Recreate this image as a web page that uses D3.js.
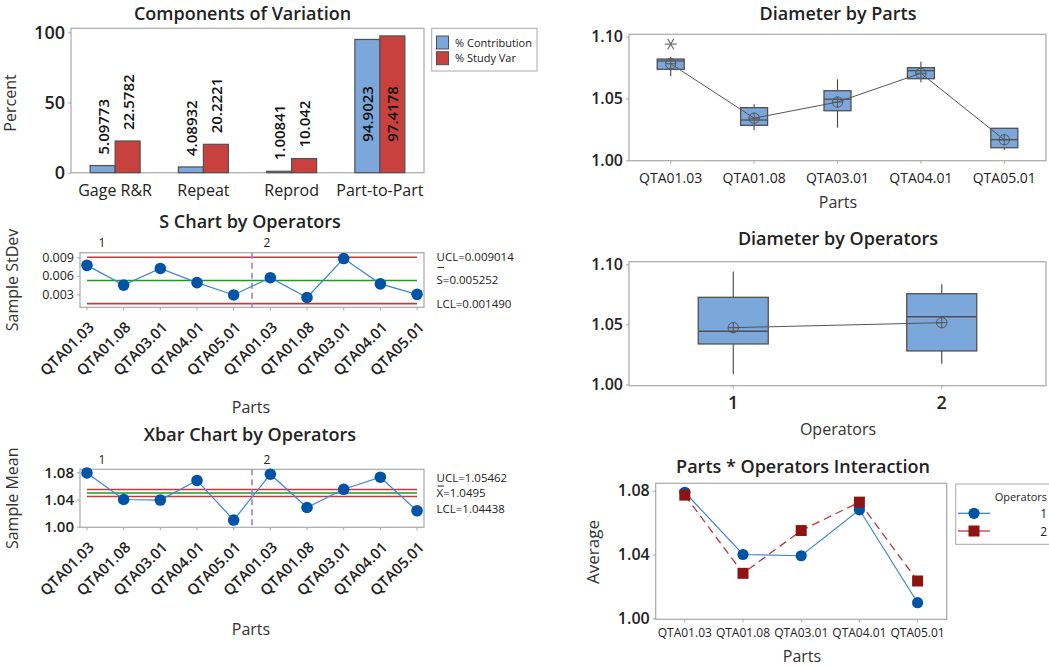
<!DOCTYPE html>
<html><head><meta charset="utf-8">
<script src="https://cdn.jsdelivr.net/npm/d3@7"></script>
<style>
body{margin:0;background:#fff}
svg{display:block}
</style></head><body>
<svg id="chart" width="1049" height="666"></svg>
<script>
// ---------- data ----------
const components = ["Gage R&R", "Repeat", "Reprod", "Part-to-Part"];
const pctContribution = [5.09773, 4.08932, 1.00841, 94.9023];
const pctStudyVar = [22.5782, 20.2221, 10.042, 97.4178];
const barSeries = ["% Contribution", "% Study Var"];
const pctTicks = [0, 50, 100];

const parts = ["QTA01.03", "QTA01.08", "QTA03.01", "QTA04.01", "QTA05.01"];
const operators = ["1", "2"];

// subgroup standard deviations, operator 1 parts then operator 2 parts
const sampleStDev = [0.0077, 0.0045, 0.0072, 0.0049, 0.0029, 0.0057, 0.0025, 0.0088, 0.0047, 0.0030];
const sLimits = [0.009014, 0.005252, 0.001490];          // UCL, S-bar, LCL
const sLimitText = ["UCL=0.009014", "S=0.005252", "LCL=0.001490"];
const sTicks = [0.003, 0.006, 0.009];

// part averages for each operator
const avgOperator1 = [1.0790, 1.0400, 1.0392, 1.0680, 1.0098];
const avgOperator2 = [1.0772, 1.0282, 1.0550, 1.0728, 1.0234];
const xbarLimits = [1.05462, 1.0495, 1.04438];            // UCL, X-bar, LCL
const xbarLimitText = ["UCL=1.05462", "X=1.0495", "LCL=1.04438"];
const meanTicks = [1.00, 1.04, 1.08];

// diameter summaries by part
const partMin    = [1.0680, 1.0245, 1.0264, 1.0631, 1.0083];
const partQ1     = [1.0736, 1.0283, 1.0401, 1.0660, 1.0102];
const partMedian = [1.0803, 1.0326, 1.0494, 1.0725, 1.0167];
const partQ3     = [1.0819, 1.0426, 1.0563, 1.0749, 1.0259];
const partMax    = [1.0838, 1.0453, 1.0655, 1.0798, 1.0259];
const partOutliers = [[1.0940], [], [], [], []];

// diameter summaries by operator
const opMin    = [1.0083, 1.0172];
const opQ1     = [1.0336, 1.0278];
const opMedian = [1.0442, 1.0563];
const opQ3     = [1.0725, 1.0755];
const opMax    = [1.0940, 1.0833];
const diamTicks = [1.00, 1.05, 1.10];

// ---------- setup ----------
const F = "'Segoe UI','Open Sans','Noto Sans',sans-serif";
const C = {
  blue: "#7BA7DB", red: "#C8413F", edge: "#505050", frame: "#A8A8A8",
  pt: "#0054A6", ptLine: "#3E84D2", limit: "#C83A3A", center: "#1E9A1E",
  op2: "#8E1414", op2Line: "#B83A3A", divider: "#A07BE0", ink: "#222"
};
const svg = d3.select("#chart");
const avgAll = [avgOperator1, avgOperator2];
const partMeans = parts.map((p, i) => d3.mean(avgAll, a => a[i]));
const opMeans = avgAll.map(a => d3.mean(a));

function txt(x, y, s, o = {}) {
  return svg.append("text").attr("x", x).attr("y", y).text(s)
    .attr("font-family", F).attr("font-size", o.size || 16)
    .attr("font-weight", o.weight || 400).attr("fill", o.fill || C.ink)
    .attr("text-anchor", o.anchor || "middle");
}
function vtxt(x, y, s, size) {
  return svg.append("text").attr("transform", `translate(${x},${y}) rotate(-90)`)
    .text(s).attr("font-family", F).attr("font-size", size || 16)
    .attr("fill", "#333").attr("text-anchor", "middle");
}
function frame(x0, y0, x1, y1) {
  svg.append("rect").attr("x", x0).attr("y", y0).attr("width", x1 - x0).attr("height", y1 - y0)
    .attr("fill", "none").attr("stroke", C.frame).attr("stroke-width", 1.2);
}
function yAxis(scale, x, ticks, fmt, size, weight) {
  const g = svg.append("g").attr("transform", `translate(${x},0)`)
    .call(d3.axisLeft(scale).tickValues(ticks).tickFormat(fmt).tickSize(3).tickPadding(3));
  g.select(".domain").remove();
  g.selectAll(".tick line").attr("stroke", C.frame);
  g.selectAll("text").attr("font-family", F).attr("font-size", size)
    .attr("font-weight", weight || 400).attr("fill", C.ink);
}
function xTicks(xs, y) {
  xs.forEach(x => svg.append("line").attr("x1", x).attr("x2", x).attr("y1", y).attr("y2", y + 3)
    .attr("stroke", C.frame));
}

// ---------- Components of Variation ----------
{
  const L = 71, R = 424, T = 28.3, B = 172.7;
  const x = d3.scaleBand().domain(components).range([L, R]);
  const y = d3.scaleLinear().domain([0, 102.85]).range([B, T]);
  const bw = 25;
  txt((L + R) / 2 - 5, 20, "Components of Variation", {size: 18, weight: 600});
  frame(L, T, R, B);
  yAxis(y, L, pctTicks, d3.format("d"), 18, 600);
  vtxt(16, 103, "Percent");
  const series = [pctContribution, pctStudyVar];
  const fills = [C.blue, C.red];
  components.forEach((c, i) => {
    const cx = x(c) + x.bandwidth() / 2;
    series.forEach((vals, k) => {
      const v = vals[i];
      const bx = cx - bw + k * bw;
      svg.append("rect").attr("x", bx).attr("y", y(v)).attr("width", bw).attr("height", B - y(v))
        .attr("fill", fills[k]).attr("stroke", C.edge).attr("stroke-width", 1.2);
      const inside = (B - y(v)) + 70 > (B - T);
      const ly = inside ? B - 31 : y(v) - 11;
      svg.append("text").attr("transform", `translate(${bx + bw / 2 + 6},${ly}) rotate(-90)`)
        .text(String(v)).attr("font-family", F).attr("font-size", 15).attr("font-weight", 600)
        .attr("fill", "#111").attr("text-anchor", "start");
    });
    txt(cx, 196, c, {size: 16});
  });
  // legend
  svg.append("rect").attr("x", 431.7).attr("y", 28.3).attr("width", 105.3).attr("height", 42.7)
    .attr("fill", "#fff").attr("stroke", C.frame);
  barSeries.forEach((s, k) => {
    svg.append("rect").attr("x", 436.5).attr("y", 36 + k * 15.7).attr("width", 12).attr("height", 13)
      .attr("fill", fills[k]).attr("stroke", C.edge);
    txt(455, 46.5 + k * 15.7, s, {size: 11, anchor: "start"});
  });
}

// ---------- control charts ----------
const subgroups = operators.flatMap(o => parts.map(p => ({op: o, part: p})));

function controlChart(o) {
  const L = 80, R = 424;
  const x = d3.scalePoint().domain(d3.range(subgroups.length)).range([L, R]).padding(0.19);
  const y = d3.scaleLinear().domain(o.domain).range([o.bottom, o.top]);
  txt(250, o.titleY, o.title, {size: 18, weight: 600});
  frame(L, o.top, R, o.bottom);
  yAxis(y, L, o.ticks, o.fmt, o.tickSize, o.tickWeight);
  vtxt(18, (o.top + o.bottom) / 2, o.ylabel);
  const x0 = x(0), x1 = x(subgroups.length - 1);
  o.limits.forEach((v, i) => {
    svg.append("line").attr("x1", x0).attr("x2", x1).attr("y1", y(v)).attr("y2", y(v))
      .attr("stroke", i === 1 ? C.center : C.limit).attr("stroke-width", 1.6);
  });
  // operator divider
  const xd = (x(parts.length - 1) + x(parts.length)) / 2;
  svg.append("line").attr("x1", xd).attr("x2", xd).attr("y1", o.top).attr("y2", o.bottom)
    .attr("stroke", C.divider).attr("stroke-width", 1.6).attr("stroke-dasharray", "6,4");
  txt(L + 22, o.top - 5.5, operators[0], {size: 12});
  txt(xd + 15, o.top - 5.5, operators[1], {size: 12});
  // series
  const line = d3.line().x((d, i) => x(i)).y(d => y(d));
  svg.append("path").attr("d", line(o.values)).attr("fill", "none")
    .attr("stroke", C.ptLine).attr("stroke-width", 1.2);
  o.values.forEach((v, i) => svg.append("circle").attr("cx", x(i)).attr("cy", y(v)).attr("r", 5.8)
    .attr("fill", C.pt));
  // x labels
  xTicks(subgroups.map((d, i) => x(i)), o.bottom);
  subgroups.forEach((d, i) => {
    svg.append("text").attr("transform", `translate(${x(i) + 8},${o.bottom + 21}) rotate(-45)`)
      .text(d.part).attr("font-family", F).attr("font-size", 15).attr("font-weight", 600)
      .attr("fill", C.ink).attr("text-anchor", "end");
  });
  txt(251, o.xlabelY, "Parts", {size: 16, fill: "#333"});
  // limit labels, spread apart where they would overlap
  const ly = o.limits.map(v => y(v) + 4);
  const gap = 15.5;
  for (let i = 1; i < ly.length; i++) {
    if (ly[i] - ly[i - 1] < gap) {
      const mid = d3.mean(ly);
      for (let k = 0; k < ly.length; k++) ly[k] = mid + (k - 1) * gap;
      break;
    }
  }
  o.labels.forEach((s, i) => {
    txt(436.5, ly[i], s, {size: 11.5, anchor: "start"});
  });
  // bar over the centre-line symbol
  svg.append("line").attr("x1", 437.5).attr("x2", 444).attr("y1", ly[1] - o.barGap).attr("y2", ly[1] - o.barGap)
    .attr("stroke", C.ink).attr("stroke-width", 1);
}

controlChart({
  title: "S Chart by Operators", titleY: 228, ylabel: "Sample StDev",
  top: 252.7, bottom: 307.3, domain: [0.0009, 0.00975], ticks: sTicks,
  fmt: d3.format(".3f"), tickSize: 12.5, tickWeight: 400,
  values: sampleStDev, limits: sLimits, labels: sLimitText, xlabelY: 413, barGap: 17
});
controlChart({
  title: "Xbar Chart by Operators", titleY: 441, ylabel: "Sample Mean",
  top: 469.3, bottom: 527.3, domain: [0.9991, 1.0844], ticks: meanTicks,
  fmt: d3.format(".2f"), tickSize: 15, tickWeight: 600,
  values: avgOperator1.concat(avgOperator2), limits: xbarLimits, labels: xbarLimitText, xlabelY: 635, barGap: 11
});

// ---------- box plots ----------
function meanMark(cx, cy) {
  svg.append("circle").attr("cx", cx).attr("cy", cy).attr("r", 5.2)
    .attr("fill", "none").attr("stroke", "#555").attr("stroke-width", 1);
  svg.append("line").attr("x1", cx - 5.2).attr("x2", cx + 5.2).attr("y1", cy).attr("y2", cy).attr("stroke", "#555");
  svg.append("line").attr("x1", cx).attr("x2", cx).attr("y1", cy - 5.2).attr("y2", cy + 5.2).attr("stroke", "#555");
}
function starMark(cx, cy, r) {
  [0, 60, 120].forEach(a => {
    const dx = r * Math.cos(a * Math.PI / 180), dy = r * Math.sin(a * Math.PI / 180);
    svg.append("line").attr("x1", cx - dx).attr("x2", cx + dx).attr("y1", cy - dy).attr("y2", cy + dy)
      .attr("stroke", "#666").attr("stroke-width", 1.1);
  });
}
function boxPlot(o) {
  const L = 629, R = 1046;
  const x = d3.scalePoint().domain(o.cats).range([L, R]).padding(0.5);
  const y = d3.scaleLinear().domain(o.domain).range([o.bottom, o.top]);
  txt(838, o.titleY, o.title, {size: 18, weight: 600});
  frame(L, o.top, R, o.bottom);
  yAxis(y, L, diamTicks, d3.format(".2f"), 16, 600);
  o.cats.forEach((c, i) => {
    const cx = x(c), h = o.boxW / 2;
    svg.append("line").attr("x1", cx).attr("x2", cx).attr("y1", y(o.max[i])).attr("y2", y(o.min[i]))
      .attr("stroke", "#444").attr("stroke-width", 1.1);
    svg.append("rect").attr("x", cx - h).attr("y", y(o.q3[i])).attr("width", o.boxW)
      .attr("height", y(o.q1[i]) - y(o.q3[i])).attr("fill", C.blue).attr("stroke", C.edge).attr("stroke-width", 1.3);
    svg.append("line").attr("x1", cx - h).attr("x2", cx + h).attr("y1", y(o.median[i])).attr("y2", y(o.median[i]))
      .attr("stroke", C.edge).attr("stroke-width", 1.3);
    (o.outliers ? o.outliers[i] : []).forEach(v => starMark(cx, y(v), 6));
  });
  svg.append("path").attr("d", d3.line().x((d, i) => x(o.cats[i])).y(d => y(d))(o.means))
    .attr("fill", "none").attr("stroke", "#555").attr("stroke-width", 1);
  o.means.forEach((m, i) => meanMark(x(o.cats[i]), y(m)));
  xTicks(o.cats.map(c => x(c)), o.bottom);
  o.cats.forEach(c => txt(x(c), o.catY, c, {size: o.catSize, weight: o.catWeight || 400}));
  txt(838, o.xlabelY, o.xlabel, {size: 16, fill: "#333"});
}

boxPlot({
  title: "Diameter by Parts", titleY: 20, top: 34.3, bottom: 160.7, domain: [0.9997, 1.1019],
  cats: parts, min: partMin, q1: partQ1, median: partMedian, q3: partQ3, max: partMax,
  outliers: partOutliers, means: partMeans, boxW: 27, catY: 183, catSize: 14,
  xlabel: "Parts", xlabelY: 208
});
boxPlot({
  title: "Diameter by Operators", titleY: 245, top: 261.7, bottom: 385.7, domain: [0.9988, 1.1022],
  cats: operators, min: opMin, q1: opQ1, median: opMedian, q3: opQ3, max: opMax,
  means: opMeans, boxW: 70, catY: 409, catSize: 18, catWeight: 600,
  xlabel: "Operators", xlabelY: 435
});

// ---------- Parts * Operators interaction ----------
{
  const L = 655.7, R = 946.7, T = 483.3, B = 619.3;
  const x = d3.scalePoint().domain(parts).range([L, R]).padding(0.5);
  const y = d3.scaleLinear().domain([0.9994, 1.0846]).range([B, T]);
  txt(803, 473, "Parts * Operators Interaction", {size: 18, weight: 600});
  frame(L, T, R, B);
  yAxis(y, L, meanTicks, d3.format(".2f"), 16, 600);
  vtxt(599, 552, "Average", 17);
  const line = d3.line().x((d, i) => x(parts[i])).y(d => y(d));
  svg.append("path").attr("d", line(avgOperator2)).attr("fill", "none")
    .attr("stroke", C.op2Line).attr("stroke-width", 1.3).attr("stroke-dasharray", "8,5");
  svg.append("path").attr("d", line(avgOperator1)).attr("fill", "none")
    .attr("stroke", C.ptLine).attr("stroke-width", 1.2);
  avgOperator1.forEach((v, i) => svg.append("circle").attr("cx", x(parts[i])).attr("cy", y(v))
    .attr("r", 5.6).attr("fill", C.pt));
  avgOperator2.forEach((v, i) => svg.append("rect").attr("x", x(parts[i]) - 5.5).attr("y", y(v) - 5.5)
    .attr("width", 11).attr("height", 11).attr("fill", C.op2));
  xTicks(parts.map(p => x(p)), B);
  parts.forEach(p => txt(x(p), 637, p, {size: 12}));
  txt(802, 662, "Parts", {size: 16, fill: "#333"});
  // legend
  svg.append("rect").attr("x", 955.7).attr("y", 484).attr("width", 110).attr("height", 60.3)
    .attr("fill", "#fff").attr("stroke", C.frame);
  txt(1047, 501, "Operators", {size: 11, anchor: "end"});
  [0, 1].forEach(k => {
    const ly = 513.3 + k * 17.7;
    svg.append("line").attr("x1", 958).attr("x2", 990).attr("y1", ly).attr("y2", ly)
      .attr("stroke", k === 0 ? C.ptLine : C.op2Line).attr("stroke-width", 1.3);
    if (k === 0) svg.append("circle").attr("cx", 974).attr("cy", ly).attr("r", 5.6).attr("fill", C.pt);
    else svg.append("rect").attr("x", 968.5).attr("y", ly - 5.5).attr("width", 11).attr("height", 11).attr("fill", C.op2);
    txt(1047, ly + 5, operators[k], {size: 12, anchor: "end"});
  });
}
</script>
</body></html>
